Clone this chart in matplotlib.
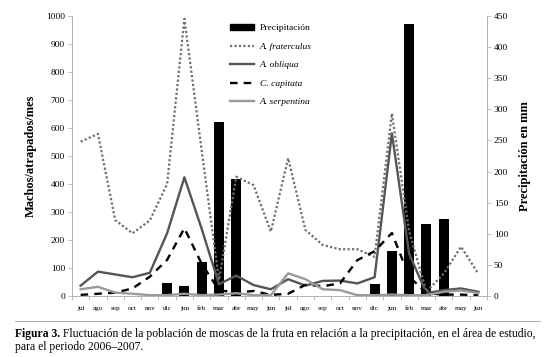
import numpy as np
import matplotlib
matplotlib.use("Agg")
import matplotlib.pyplot as plt
import matplotlib.patches as mpatches
from matplotlib.lines import Line2D

plt.rcParams["font.family"] = ["Liberation Serif", "DejaVu Serif"]

months = ["jul", "ago", "sep", "oct", "nov", "dic", "jun", "feb", "mar", "abr", "may", "jun"] * 2

# males trapped per month (left axis)
fraterculus = [551, 579, 271, 224, 270, 400, 990, 520, 57, 426, 396, 230,
               492, 236, 182, 167, 167, 140, 652, 230, 15, 80, 176, 79]
obliqua = [37, 87, 77, 67, 83, 224, 424, 240, 42, 73, 39, 24,
           60, 37, 54, 55, 45, 67, 581, 150, 10, 21, 27, 15]
capitata = [4, 8, 12, 27, 69, 129, 242, 115, 21, 12, 18, 4,
            8, 40, 35, 45, 128, 160, 225, 69, 10, 5, 5, 2]
serpentina = [24, 33, 12, 8, 3, 3, 8, 3, 5, 10, 3, 3,
              81, 60, 24, 21, 3, 3, 5, 3, 3, 15, 20, 10]

# rainfall in mm (right axis)
precip = [0, 0, 0, 0, 0, 21, 16, 54, 280, 188, 0, 0,
          0, 0, 0, 0, 0, 19, 73, 437, 115, 123, 0, 0]

axis_grey = "#b5b5b5"
styles = {
    "A. fraterculus": dict(color="#6e6e6e", lw=1.6, ls=(0, (1, 1.0))),
    "A. obliqua": dict(color="#555555", lw=1.7),
    "C. capitata": dict(color="black", lw=1.7, ls=(0, (3.2, 2.6))),
    "A. serpentina": dict(color="#9a9a9a", lw=1.7),
}

fig = plt.figure(figsize=(5.5, 3.57), dpi=100)
ax = fig.add_axes([72 / 550, 1 - 296 / 357, (487 - 72) / 550, (296 - 16) / 357])
ax2 = ax.twinx()

x = np.arange(len(months))
ax2.bar(x, precip, width=0.58, color="black", zorder=1)

series = [fraterculus, obliqua, capitata, serpentina]
for (name, st), vals in zip(styles.items(), series):
    ax.plot(x, vals, **st)

# lines above the bars
ax.set_zorder(ax2.get_zorder() + 1)
ax.patch.set_visible(False)

ax.set_xlim(-0.5, len(months) - 0.5)
ax.set_ylim(0, 1000)
ax2.set_ylim(0, 450)
ax.set_yticks(np.arange(0, 1001, 100))
ax2.set_yticks(np.arange(0, 451, 50))

ax.set_xticks(x)
ax.set_xticklabels(months, fontsize=5.2)
ax.set_xticks(np.arange(-0.5, len(months), 1), minor=True)
ax.tick_params(axis="x", which="major", length=0, pad=7)
ax.tick_params(axis="x", which="minor", length=3, color=axis_grey, width=0.6)
ax.tick_params(axis="y", labelsize=6.8, length=3, color=axis_grey, width=0.6, pad=2)
ax2.tick_params(axis="y", labelsize=6.8, length=3, color=axis_grey, width=0.6, pad=2)

for a in (ax, ax2):
    a.spines["top"].set_visible(False)
    for s in ("left", "right", "bottom"):
        a.spines[s].set_color(axis_grey)
        a.spines[s].set_linewidth(0.7)

ax.set_ylabel("Machos/atrapados/mes", fontsize=9, fontweight="bold", labelpad=7)
ax2.set_ylabel("Precipitación en mm", fontsize=9, fontweight="bold", labelpad=8)

handles = [mpatches.Patch(color="black", label="Precipitación")]
handles += [Line2D([], [], label=name, **st) for name, st in styles.items()]
leg = ax.legend(handles=handles, loc="upper left", bbox_to_anchor=(225 / 550, 1 - 19 / 357),
                bbox_transform=fig.transFigure, frameon=False, fontsize=6.8,
                handlelength=2.6, handletextpad=0.6, labelspacing=1.05, borderpad=0)
for t in leg.get_texts()[1:]:
    t.set_fontstyle("italic")

# caption
fig.add_artist(Line2D([15 / 550, 540 / 550], [1 - 321 / 357] * 2, color="#aaaaaa", lw=0.7))
fig.canvas.draw()
renderer = fig.canvas.get_renderer()
bold = fig.text(15 / 550, 1 - 334 / 357, "Figura 3.", fontsize=8.4, fontweight="bold", va="center")
bb = bold.get_window_extent(renderer)
fig.text(bb.x1 / fig.bbox.width + 3 / 550, 1 - 334 / 357,
         "Fluctuación de la población de moscas de la fruta en relación a la precipitación, en el área de estudio,",
         fontsize=8.4, va="center")
fig.text(15 / 550, 1 - 347 / 357, "para el periodo 2006–2007.", fontsize=8.4, va="center")

plt.savefig("out.png", dpi=100, facecolor="white")
plt.close(fig)
